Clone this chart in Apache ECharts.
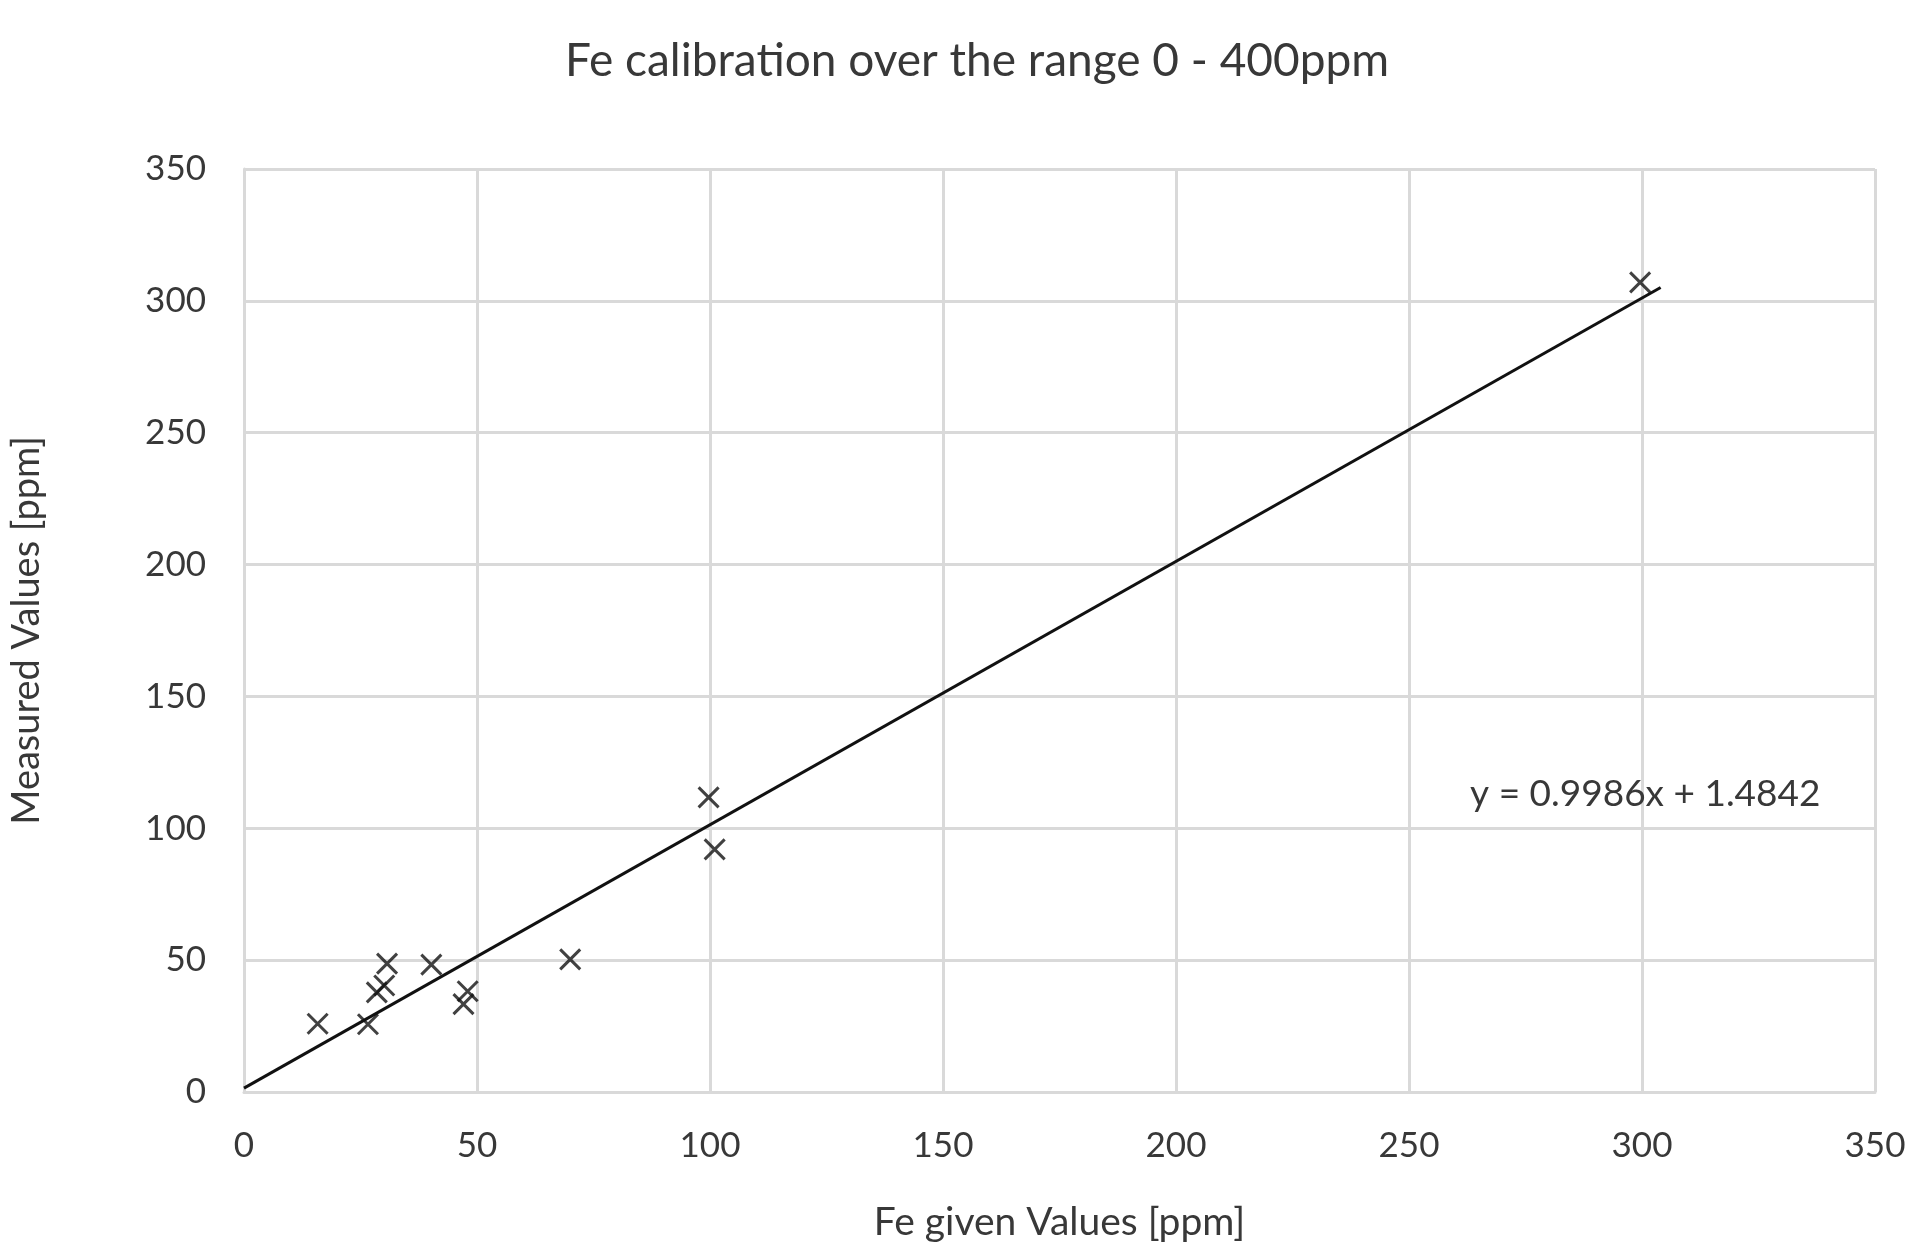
<!DOCTYPE html>
<html>
<head>
<meta charset="utf-8">
<script src="https://cdn.jsdelivr.net/npm/echarts@6/dist/echarts.min.js"></script>
<style>
html,body{margin:0;padding:0;background:#fff;}
#chart{width:1922px;height:1259px;}
</style>
</head>
<body>
<div id="chart"></div>
<script>
const givenValues = [15.8, 26.6, 28.5, 30.1, 30.7, 40.2, 47.1, 48.0, 70.0, 99.7, 101.0, 299.6];
const measuredValues = [25.9, 25.7, 37.8, 40.4, 48.7, 48.3, 33.3, 38.2, 50.3, 111.7, 92.0, 307.0];
const trendSlope = 0.9986;
const trendIntercept = 1.4842;
const trendRange = [0, 304];
const axisTicks = [0, 50, 100, 150, 200, 250, 300, 350];
const titleText = 'Fe calibration over the range 0 - 400ppm';
const xAxisTitle = 'Fe given Values [ppm]';
const yAxisTitle = 'Measured Values [ppm]';
const equationText = 'y = 0.9986x + 1.4842';
const equationPos = [263, 113];

const points = givenValues.map((x, i) => [x, measuredValues[i]]);
const trend = trendRange.map(x => [x, trendSlope * x + trendIntercept]);
const FONT = 'Lato, "Open Sans", sans-serif';
const TXT = '#383838';
const GRID = '#d9d9d9';

const chart = echarts.init(document.getElementById('chart'));
chart.setOption({
  animation: false,
  backgroundColor: '#fff',
  title: {
    text: titleText,
    left: 972, top: 33, textAlign: 'center',
    textStyle: { fontFamily: FONT, fontSize: 46, fontWeight: 'normal', color: TXT }
  },
  grid: { left: 244, right: 47, top: 169, bottom: 167 },
  xAxis: {
    type: 'value', min: axisTicks[0], max: axisTicks[axisTicks.length - 1], interval: 50,
    name: xAxisTitle, nameLocation: 'middle', nameGap: 111,
    nameTextStyle: { fontFamily: FONT, fontSize: 39, color: TXT },
    axisLine: { show: true, lineStyle: { color: GRID, width: 3 } },
    axisTick: { show: false },
    axisLabel: { fontFamily: FONT, fontSize: 35, color: TXT, margin: 36 },
    splitLine: { show: true, lineStyle: { color: GRID, width: 3 } }
  },
  yAxis: {
    type: 'value', min: axisTicks[0], max: axisTicks[axisTicks.length - 1], interval: 50,
    name: yAxisTitle, nameLocation: 'middle', nameGap: 198, nameRotate: 90,
    nameTextStyle: { fontFamily: FONT, fontSize: 38, color: TXT },
    axisLine: { show: true, lineStyle: { color: GRID, width: 3 } },
    axisTick: { show: false },
    axisLabel: { fontFamily: FONT, fontSize: 35, color: TXT, margin: 38 },
    splitLine: { show: true, lineStyle: { color: GRID, width: 3 } }
  },
  series: [
    {
      type: 'line', data: trend, symbol: 'none', z: 3,
      lineStyle: { color: '#111', width: 3 },
      markPoint: {
        symbol: 'rect', symbolSize: 1, itemStyle: { color: 'rgba(0,0,0,0)' },
        data: [{ coord: equationPos, value: equationText,
          label: { show: true, position: 'right', distance: 0, formatter: equationText,
            fontFamily: FONT, fontSize: 37, color: TXT } }]
      }
    },
    {
      type: 'scatter', data: points, z: 4,
      symbol: 'path://M0,0L10,10M10,0L0,10', symbolSize: 20,
      itemStyle: { color: 'none', borderColor: '#111', borderWidth: 3 }
    }
  ]
});
</script>
</body>
</html>
